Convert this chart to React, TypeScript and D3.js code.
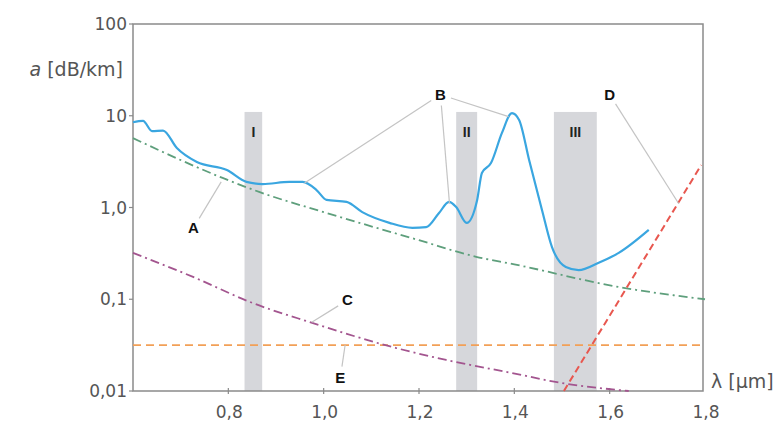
import React, { useEffect, useRef } from 'react';
import * as d3 from 'd3';

// Total fibre attenuation (B): wavelength [µm], attenuation [dB/km]
const lambdaB = [0.6, 0.621, 0.64, 0.663, 0.692, 0.734, 0.797, 0.838, 0.872, 0.928, 0.956, 0.985, 1.006, 1.048, 1.081, 1.138, 1.186, 1.215, 1.242, 1.263, 1.278, 1.3, 1.322, 1.332, 1.351, 1.374, 1.395, 1.41, 1.431, 1.458, 1.479, 1.508, 1.535, 1.577, 1.619, 1.682];
const lossB = [8.5, 8.8, 6.8, 6.9, 4.45, 3.13, 2.56, 1.9, 1.8, 1.9, 1.9, 1.55, 1.21, 1.15, 0.89, 0.68, 0.6, 0.61, 0.87, 1.15, 1.01, 0.68, 1.21, 2.38, 3.05, 6.5, 10.7, 9.0, 3.3, 0.94, 0.37, 0.225, 0.208, 0.25, 0.32, 0.57];

// Rayleigh scattering (A)
const lambdaA = [0.6, 0.788, 0.866, 1.0, 1.2, 1.32, 1.4, 1.619, 1.8];
const lossA = [5.7, 2.1, 1.47, 0.89, 0.44, 0.29, 0.24, 0.136, 0.1];

// UV absorption (C)
const lambdaC = [0.6, 0.726, 0.851, 0.97, 1.152, 1.257, 1.395, 1.5, 1.64];
const lossC = [0.32, 0.175, 0.091, 0.0565, 0.0294, 0.0218, 0.0157, 0.0122, 0.01];

// IR absorption (D)
const lambdaD = [1.504, 1.792];
const lossD = [0.01, 2.9];

// Waveguide imperfections (E)
const lambdaE = [0.6, 1.8];
const lossE = [0.0317, 0.0317];

// Transmission windows
const windowNames = ['I', 'II', 'III'];
const windowStart = [0.834, 1.278, 1.483];
const windowEnd = [0.871, 1.322, 1.573];
const windowTop = 11;

const xTicks = [0.8, 1.0, 1.2, 1.4, 1.6, 1.8];
const yTicks = [0.01, 0.1, 1, 10, 100];
const yTickLabels = ['0,01', '0,1', '1,0', '10', '100'];

// Callout labels: text, label anchor and the curve point the leader goes to (data units)
const calloutText = ['A', 'B', 'B', 'B', 'C', 'D', 'E'];
const calloutLabel = [[0.727, 0.6], [1.245, 17], [1.245, 17], [1.245, 17], [1.05, 0.098], [1.6, 17], [1.035, 0.014]];
const calloutTarget = [[0.785, 1.9], [0.96, 1.85], [1.264, 1.1], [1.388, 9.8], [0.975, 0.056], [1.745, 1.1], [1.045, 0.0317]];

const App = () => {
  const ref = useRef<SVGSVGElement | null>(null);

  useEffect(() => {
    const svg = d3.select(ref.current);
    svg.selectAll('*').remove();

    const left = 133, top = 24, right = 703, bottom = 391;
    const x = d3.scaleLinear().domain([0.6, 1.8]).range([left, 705]);
    const y = d3.scaleLog().domain([0.01, 100]).range([bottom, top]);
    const font = '"Liberation Sans", Arial, sans-serif';
    const axisFont = '"DejaVu Sans", sans-serif';

    // windows
    windowNames.forEach((name, i) => {
      svg.append('rect')
        .attr('x', x(windowStart[i]))
        .attr('y', y(windowTop))
        .attr('width', x(windowEnd[i]) - x(windowStart[i]))
        .attr('height', bottom - y(windowTop))
        .attr('fill', '#d6d7db');
      svg.append('text')
        .attr('x', (x(windowStart[i]) + x(windowEnd[i])) / 2)
        .attr('y', y(windowTop) + 25)
        .attr('text-anchor', 'middle')
        .attr('font-family', font)
        .attr('font-weight', 'bold')
        .attr('font-size', 14)
        .attr('fill', '#222')
        .text(name);
    });

    // frame
    svg.append('rect')
      .attr('x', left).attr('y', top)
      .attr('width', right - left).attr('height', bottom - top)
      .attr('fill', 'none').attr('stroke', '#8a8a8a').attr('stroke-width', 1.5);

    // y ticks + labels
    yTicks.forEach((v, i) => {
      svg.append('line')
        .attr('x1', left - 4).attr('x2', left)
        .attr('y1', y(v)).attr('y2', y(v))
        .attr('stroke', '#8a8a8a').attr('stroke-width', 1.2);
      svg.append('text')
        .attr('x', left - 6).attr('y', y(v) + 6)
        .attr('text-anchor', 'end')
        .attr('font-family', axisFont).attr('font-size', 17)
        .attr('fill', '#555')
        .text(yTickLabels[i]);
    });

    // x ticks + labels
    xTicks.forEach(v => {
      if (v < 1.8) {
        svg.append('line')
          .attr('x1', x(v)).attr('x2', x(v))
          .attr('y1', bottom - 3).attr('y2', bottom + 3)
          .attr('stroke', '#8a8a8a').attr('stroke-width', 1.2);
      }
      svg.append('text')
        .attr('x', x(v) + 1).attr('y', bottom + 27)
        .attr('text-anchor', 'middle')
        .attr('font-family', axisFont).attr('font-size', 17)
        .attr('fill', '#555')
        .text(d3.format('.1f')(v).replace('.', ','));
    });

    // axis titles
    const yt = svg.append('text')
      .attr('x', 123).attr('y', 76)
      .attr('text-anchor', 'end')
      .attr('font-family', axisFont).attr('font-size', 19)
      .attr('fill', '#555');
    yt.append('tspan').attr('font-style', 'italic').text('a');
    yt.append('tspan').text(' [dB/km]');

    svg.append('text')
      .attr('x', 711).attr('y', 388)
      .attr('font-family', axisFont).attr('font-size', 19)
      .attr('fill', '#555')
      .text('λ [µm]');

    // curves
    const line = d3.line<[number, number]>()
      .x(d => x(d[0]))
      .y(d => y(d[1]))
      .curve(d3.curveMonotoneX);
    const zip = (a: number[], b: number[]) => a.map((v, i) => [v, b[i]] as [number, number]);

    const drawCurve = (xs: number[], ys: number[], color: string, width: number, dash: string | null) => {
      const p = svg.append('path')
        .datum(zip(xs, ys))
        .attr('fill', 'none')
        .attr('stroke', color)
        .attr('stroke-width', width)
        .attr('d', line);
      if (dash) p.attr('stroke-dasharray', dash);
    };

    drawCurve(lambdaE, lossE, '#f2a057', 1.8, '8,5');
    drawCurve(lambdaC, lossC, '#a3558f', 1.8, '9,4,2,4');
    drawCurve(lambdaA, lossA, '#5e9f7c', 1.8, '9,4,2,4');
    drawCurve(lambdaD, lossD, '#e8574f', 2, '7,4');
    drawCurve(lambdaB, lossB, '#3aa6e0', 2.2, null);

    // callouts
    calloutText.forEach((t, i) => {
      const lx = x(calloutLabel[i][0]), ly = y(calloutLabel[i][1]);
      const tx = x(calloutTarget[i][0]), ty = y(calloutTarget[i][1]);
      const ang = Math.atan2(ty - ly, tx - lx);
      svg.append('line')
        .attr('x1', lx + Math.cos(ang) * 11).attr('y1', ly + Math.sin(ang) * 11)
        .attr('x2', tx).attr('y2', ty)
        .attr('stroke', '#c4c4c4').attr('stroke-width', 1.2);
    });
    const seen = new Set<string>();
    calloutText.forEach((t, i) => {
      if (seen.has(t)) return;
      seen.add(t);
      svg.append('text')
        .attr('x', x(calloutLabel[i][0])).attr('y', y(calloutLabel[i][1]) + 5)
        .attr('text-anchor', 'middle')
        .attr('font-family', font).attr('font-weight', 'bold').attr('font-size', 15)
        .attr('fill', '#111')
        .text(t);
    });
  }, []);

  return (
    <svg ref={ref} width={784} height={423}
      style={{ position: 'absolute', left: 0, top: 0, background: '#fff' }} />
  );
};

export default App;
